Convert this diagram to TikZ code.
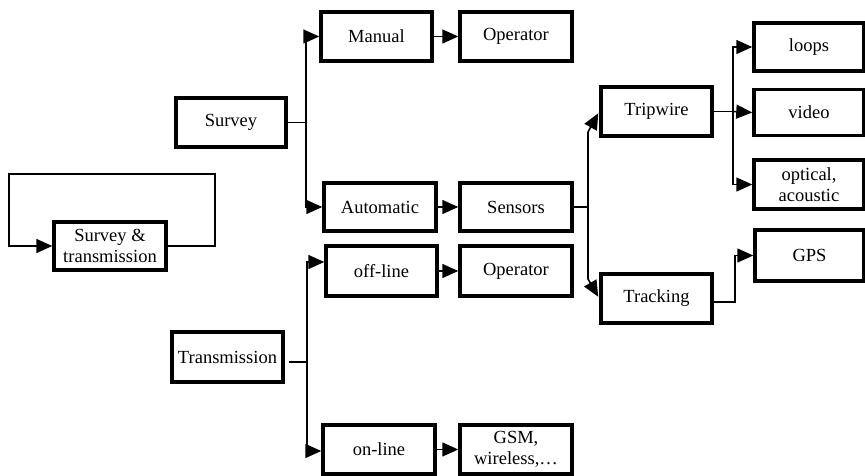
\documentclass[tikz,border=0pt]{standalone}
\usepackage{fontspec}
\setmainfont{Liberation Serif}
\usetikzlibrary{arrows.meta}
\tikzset{
  box/.style={draw, line width=3.5pt, minimum width=111pt, minimum height=49pt,
    align=center, inner sep=2pt, font=\fontsize{18.5}{21}\selectfont},
  con/.style={line width=1.6pt},
  arr/.style={con, -{Triangle[length=16pt,width=14pt]}},
}
\begin{document}
\begin{tikzpicture}[x=1pt,y=-1pt]
\useasboundingbox (0,0) rectangle (865,476);
% nodes
\node[box, minimum width=112pt, minimum height=48pt] (st) at (110,246) {Survey \&\\transmission};
\node[box, minimum width=110pt] (survey) at (231,122.5) {Survey};
\node[box] (manual) at (376.5,36.5) {Manual};
\node[box, minimum width=112pt] (op1) at (516,36.5) {Operator};
\node[box, minimum width=112pt, minimum height=48pt] (auto) at (380,207) {Automatic};
\node[box, minimum width=112pt, minimum height=48pt] (sensors) at (516,207) {Sensors};
\node[box] (tripwire) at (656.5,111.5) {Tripwire};
\node[box] (tracking) at (656.5,298.5) {Tracking};
\node[box, minimum width=110pt, minimum height=48pt] (loops) at (809,47) {loops};
\node[box, minimum width=110pt, minimum height=46pt] (video) at (809,112.5) {video};
\node[box, minimum width=110pt] (optical) at (809,184.5) {optical,\\acoustic};
\node[box, minimum width=109pt, minimum height=51pt] (gps) at (809.5,255.5) {GPS};
\node[box, minimum height=50pt] (trans) at (227.5,357) {Transmission};
\node[box, minimum height=50pt] (offline) at (381.5,271) {off-line};
\node[box, minimum width=112pt, minimum height=50pt] (op2) at (516,271) {Operator};
\node[box, minimum width=112pt] (online) at (379,449.5) {on-line};
\node[box, minimum width=112pt] (gsm) at (516,449.5) {GSM,\\wireless,…};
% junctions
\coordinate (j1) at (306,122.5);
\coordinate (j3) at (588,207);
\coordinate (j4) at (733,111.5);
\coordinate (j5) at (307,362);
% loop
\draw[arr] (st.east) -- ++(47,0) -- ++(0,-72) -- ++(-206,0) -- ++(0,72) -- (st.west);
% survey branch
\draw[con] (survey.east) -- (j1);
\draw[arr] (j1) |- (manual.west);
\draw[arr] (j1) |- (auto.west);
\draw[arr] (manual) -- (op1);
\draw[arr] (auto) -- (sensors);
% sensors branch
\draw[con] (sensors.east) -- (j3);
\draw[arr, shorten >=2pt] (j3) -- ++(0,-75) -- (tripwire.west);
\draw[arr, shorten >=2pt] (j3) -- ++(0,72) -- (tracking.west);
% tripwire branch
\draw[con] (tripwire.east) -- (j4);
\draw[arr] (j4) |- (loops.west);
\draw[arr] (j4) -- (video.west);
\draw[arr] (j4) |- (optical.west);
\draw[arr] ([yshift=-3.5pt]tracking.east) -- ++(21,0) |- (gps.west);
% transmission branch
\draw[con] ([xshift=4pt,yshift=-5pt]trans.east) -- (j5);
\draw[arr] (j5) |- ([yshift=9pt]offline.west);
\draw[arr] (j5) |- ([yshift=-1.5pt]online.west);
\draw[arr] (offline) -- (op2);
\draw[arr] (online) -- (gsm);
\end{tikzpicture}
\end{document}
